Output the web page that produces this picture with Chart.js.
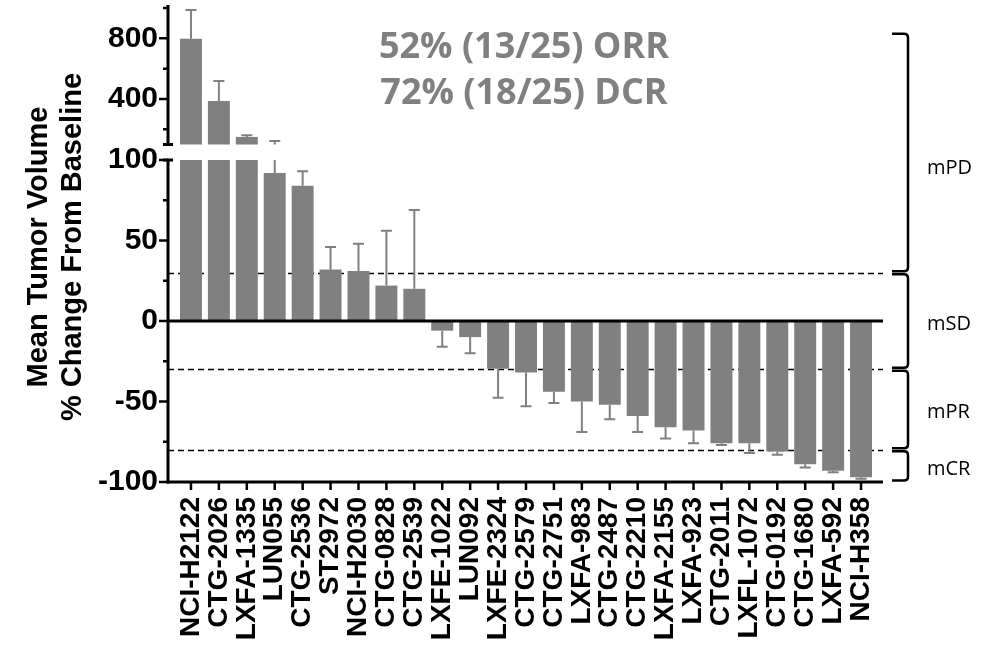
<!DOCTYPE html>
<html>
<head>
<meta charset="utf-8">
<script src="https://cdn.jsdelivr.net/npm/chart.js@4.4.1/dist/chart.umd.min.js"></script>
<style>
  html, body { margin: 0; padding: 0; background: #fff; }
  #wrap { position: relative; width: 990px; height: 650px; }
</style>
</head>
<body>
<div id="wrap"><canvas id="c" width="990" height="650"></canvas></div>
<script>
// Tumour models, ordered by mean change
const models = [
  'NCI-H2122', 'CTG-2026', 'LXFA-1335', 'LUN055', 'CTG-2536', 'ST2972', 'NCI-H2030',
  'CTG-0828', 'CTG-2539', 'LXFE-1022', 'LUN092', 'LXFE-2324', 'CTG-2579', 'CTG-2751',
  'LXFA-983', 'CTG-2487', 'CTG-2210', 'LXFA-2155', 'LXFA-923', 'CTG-2011', 'LXFL-1072',
  'CTG-0192', 'CTG-1680', 'LXFA-592', 'NCI-H358'
];
// Mean % change in tumour volume from baseline
const meanChange = [
  798, 387, 150, 92, 84, 32, 31,
  22, 20, -6, -10, -29.7, -32, -44,
  -50, -52, -59, -66, -68, -76, -76,
  -81, -89, -93, -97
];
// Standard deviation (drawn away from zero)
const sdChange = [
  189, 132, 11, 31, 9, 14, 17,
  34, 49, 10, 10, 18, 21, 7,
  19, 9, 10, 7, 8, 1, 6,
  2, 2, 1, 1
];

// Axis segments of the broken value axis
const lowerRange = [-100, 100];
const upperRange = [-2, 1020];
const lowerTicks = [-100, -50, 0, 50, 100];
const lowerMinorTicks = [-75, -25, 25, 75];
const upperTicks = [400, 800];
const upperMinorTicks = [200, 600, 1000];

// Response cut-offs and bands
const cutoffs = [30, -30, -80];
const bandNames = ['mPD', 'mSD', 'mPR', 'mCR'];
const bandTops = [['y2', 840], ['y', 30], ['y', -30], ['y', -80]];
const bandBottoms = [['y', 30], ['y', -30], ['y', -80], ['y', -100]];
const bandLabelAt = [['y', 95], ['y', -2], ['y', -57], ['y', -92]];

const summaryLines = ['52% (13/25) ORR', '72% (18/25) DCR'];
const axisTitleLines = ['Mean Tumor Volume', '% Change From Baseline'];

const [lowMin, lowMax] = lowerRange;
const BAR_GREY = '#808080';
const ARIAL = '"Liberation Sans", Arial, Helvetica, sans-serif';
const OPEN = '"Open Sans", "Noto Sans", sans-serif';

const lowerData = meanChange.map(v => Math.max(lowMin, Math.min(lowMax, v)));
const upperData = meanChange.map(v => (v > lowMax ? [lowMax, v] : null));

const decorations = {
  id: 'decorations',
  beforeDatasetsDraw(chart) {
    const { ctx, chartArea, scales } = chart;
    const axisX = chartArea.left - 9;
    const right = chartArea.right + 8;
    ctx.save();
    ctx.strokeStyle = '#000';
    ctx.lineWidth = 1.6;
    ctx.setLineDash([6, 4]);
    cutoffs.forEach(v => {
      const y = Math.round(scales.y.getPixelForValue(v)) + 0.5;
      ctx.beginPath();
      ctx.moveTo(axisX, y);
      ctx.lineTo(right, y);
      ctx.stroke();
    });
    ctx.restore();
  },
  afterDatasetsDraw(chart) {
    const { ctx, chartArea, scales } = chart;
    const xs = scales.x, ys = scales.y, ys2 = scales.y2;
    const axisX = chartArea.left - 9;
    const right = chartArea.right + 8;
    ctx.save();

    // error bars
    ctx.strokeStyle = BAR_GREY;
    ctx.lineWidth = 2;
    meanChange.forEach((v, i) => {
      const end = v >= 0 ? v + sdChange[i] : v - sdChange[i];
      const x = xs.getPixelForValue(i);
      const lo = Math.min(v, end), hi = Math.max(v, end);
      ctx.beginPath();
      const a = Math.max(lo, lowMin), b = Math.min(hi, lowMax);
      if (b > a) {
        ctx.moveTo(x, ys.getPixelForValue(a));
        ctx.lineTo(x, ys.getPixelForValue(b));
      }
      if (hi > lowMax) {
        ctx.moveTo(x, ys2.getPixelForValue(Math.max(lo, lowMax)));
        ctx.lineTo(x, ys2.getPixelForValue(hi));
      }
      const yc = end > lowMax ? ys2.getPixelForValue(end) : ys.getPixelForValue(end);
      ctx.moveTo(x - 5.5, yc);
      ctx.lineTo(x + 5.5, yc);
      ctx.stroke();
    });

    // zero line and x axis line
    ctx.strokeStyle = '#000';
    ctx.lineWidth = 3;
    const y0 = ys.getPixelForValue(0);
    const yb = ys.getPixelForValue(lowMin);
    ctx.beginPath();
    ctx.moveTo(axisX, y0); ctx.lineTo(right, y0);
    ctx.moveTo(axisX - 1.5, yb); ctx.lineTo(right, yb);
    ctx.stroke();

    // x tick marks
    ctx.lineWidth = 2.5;
    ctx.beginPath();
    models.forEach((m, i) => {
      const x = xs.getPixelForValue(i);
      ctx.moveTo(x, yb); ctx.lineTo(x, yb + 8);
    });
    ctx.stroke();

    // broken y axis
    ctx.lineWidth = 3;
    const lowTop = ys.getPixelForValue(lowMax);
    const upBottom = ys2.getPixelForValue(lowMax);
    const upTop = ys2.getPixelForValue(upperRange[1]);
    ctx.beginPath();
    ctx.moveTo(axisX, lowTop); ctx.lineTo(axisX, yb + 1.5);
    ctx.moveTo(axisX, upTop); ctx.lineTo(axisX, upBottom);
    ctx.moveTo(axisX - 5, lowTop); ctx.lineTo(axisX + 5, lowTop);
    ctx.moveTo(axisX - 5, upBottom); ctx.lineTo(axisX + 5, upBottom);
    ctx.stroke();

    // y tick marks
    ctx.lineWidth = 2.5;
    ctx.beginPath();
    lowerTicks.forEach(v => { const y = ys.getPixelForValue(v); ctx.moveTo(axisX - 9, y); ctx.lineTo(axisX, y); });
    lowerMinorTicks.forEach(v => { const y = ys.getPixelForValue(v); ctx.moveTo(axisX - 5, y); ctx.lineTo(axisX, y); });
    upperTicks.forEach(v => { const y = ys2.getPixelForValue(v); ctx.moveTo(axisX - 9, y); ctx.lineTo(axisX, y); });
    upperMinorTicks.forEach(v => { const y = ys2.getPixelForValue(v); ctx.moveTo(axisX - 5, y); ctx.lineTo(axisX, y); });
    ctx.stroke();

    // response brackets
    const px = ([axis, v]) => scales[axis].getPixelForValue(v);
    const hx = chartArea.right + 17, vx = chartArea.right + 33;
    ctx.lineWidth = 2.5;
    ctx.lineJoin = 'round';
    bandNames.forEach((name, i) => {
      const t = px(bandTops[i]) + 1.5, b = px(bandBottoms[i]) - 1.5;
      ctx.beginPath();
      ctx.moveTo(hx, t);
      ctx.lineTo(vx - 4, t);
      ctx.quadraticCurveTo(vx, t, vx, t + 4);
      ctx.lineTo(vx, b - 4);
      ctx.quadraticCurveTo(vx, b, vx - 4, b);
      ctx.lineTo(hx, b);
      ctx.stroke();
      ctx.fillStyle = '#000';
      ctx.font = '20px ' + OPEN;
      ctx.textAlign = 'left';
      ctx.textBaseline = 'middle';
      ctx.fillText(name, chartArea.right + 52, px(bandLabelAt[i]));
    });

    ctx.restore();
  },
  afterDraw(chart) {
    const { ctx } = chart;
    ctx.save();
    // response summary
    ctx.fillStyle = BAR_GREY;
    ctx.font = 'bold 36px ' + OPEN;
    ctx.textAlign = 'center';
    ctx.textBaseline = 'middle';
    summaryLines.forEach((s, i) => ctx.fillText(s, 524, 48 + i * 46));
    // value-axis title
    ctx.fillStyle = '#000';
    ctx.font = 'bold 29px ' + ARIAL;
    ctx.translate(56, 247);
    ctx.rotate(-Math.PI / 2);
    axisTitleLines.forEach((s, i) => ctx.fillText(s, 0, -17 + i * 34));
    ctx.restore();
  }
};

const tickFont = { family: ARIAL, weight: 'bold', size: 30 };
const noOverflow = s => { s.paddingTop = 0; s.paddingBottom = 0; s.paddingLeft = 0; s.paddingRight = 0; };

new Chart(document.getElementById('c'), {
  type: 'bar',
  data: {
    labels: models,
    datasets: [
      { data: lowerData, yAxisID: 'y', backgroundColor: BAR_GREY },
      { data: upperData, yAxisID: 'y2', backgroundColor: BAR_GREY }
    ]
  },
  options: {
    responsive: false,
    animation: false,
    layout: { padding: { top: 5, right: 115, left: 0, bottom: 0 } },
    plugins: { legend: { display: false }, tooltip: { enabled: false } },
    datasets: {
      bar: {
        grouped: false,
        barPercentage: 0.787,
        categoryPercentage: 1,
        borderWidth: 0
      }
    },
    scales: {
      x: {
        grid: { display: false, drawTicks: false },
        border: { display: false },
        ticks: {
          autoSkip: false, maxRotation: 90, minRotation: 90, padding: 15,
          color: '#000', font: { family: ARIAL, weight: 'bold', size: 28 }
        },
        afterFit(s) { s.height = 168; noOverflow(s); }
      },
      y: {
        stack: 'v', stackWeight: 322,
        min: lowerRange[0], max: lowerRange[1],
        grid: { display: false, drawTicks: false },
        border: { display: false },
        ticks: { padding: 19, color: '#000', font: tickFont },
        afterBuildTicks(s) { s.ticks = lowerTicks.map(v => ({ value: v })); },
        afterFit(s) { s.width = 177; noOverflow(s); }
      },
      y2: {
        stack: 'v', stackWeight: 155,
        min: upperRange[0], max: upperRange[1],
        grid: { display: false, drawTicks: false },
        border: { display: false },
        ticks: { padding: 19, color: '#000', font: tickFont },
        afterBuildTicks(s) { s.ticks = upperTicks.map(v => ({ value: v })); },
        afterFit(s) { s.width = 177; noOverflow(s); }
      }
    }
  },
  plugins: [decorations]
});
</script>
</body>
</html>
